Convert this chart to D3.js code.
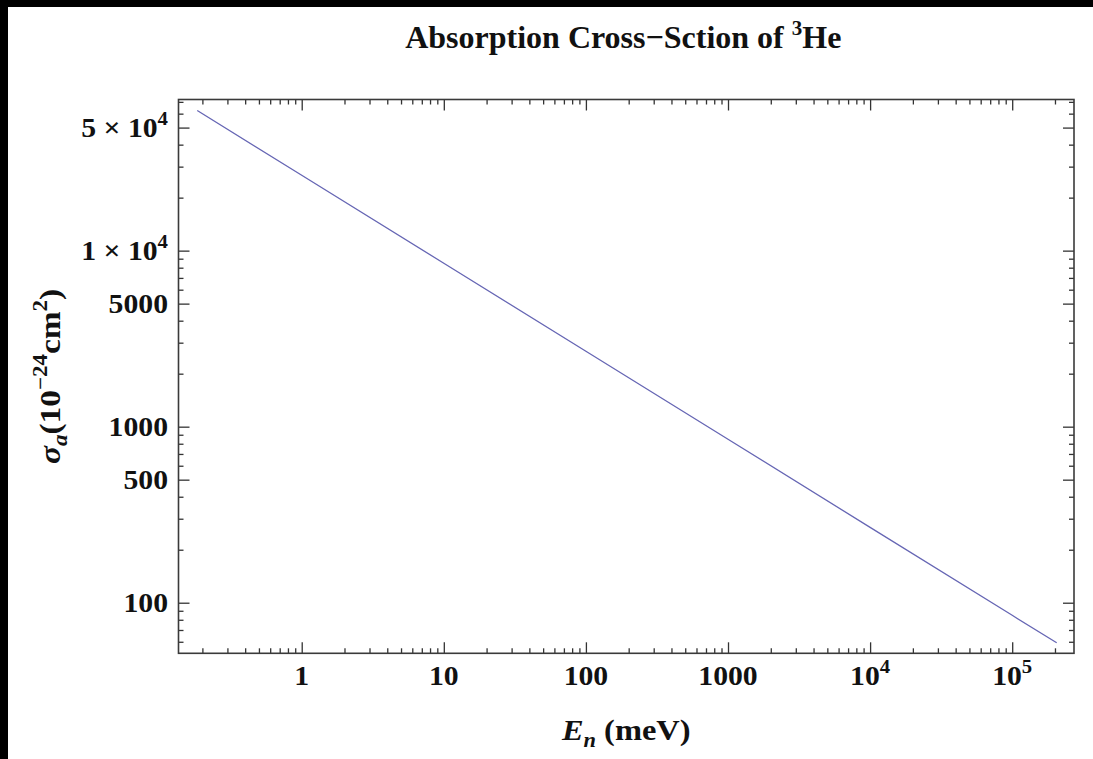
<!DOCTYPE html>
<html>
<head>
<meta charset="utf-8">
<script src="https://cdn.jsdelivr.net/npm/d3@7/dist/d3.min.js"></script>
<style>
  html, body { margin: 0; padding: 0; background: #fff; }
  svg { display: block; }
  text { font-family: "Liberation Serif", "Times New Roman", serif; font-weight: bold; fill: #111; }
</style>
</head>
<body>
<svg id="chart" width="1093" height="759"></svg>
<script>
// Neutron energy (meV) and the 3He absorption cross-section (barn) along the curve
const energy = [0.184, 1, 10, 100, 1000, 10000, 100000, 205600];
const sigma  = [62500, 26800, 8480, 2680, 848, 268, 84.8, 59.2];

// Labelled ticks
const xMajor = [1, 10, 100, 1000, 10000, 100000];
const xLabels = [["1"], ["10"], ["100"], ["1000"], ["10", "4"], ["10", "5"]];
const yMajor = [50000, 10000, 5000, 1000, 500, 100];
const yLabels = [["5 × 10", "4"], ["1 × 10", "4"], ["5000"], ["1000"], ["500"], ["100"]];

const W = 1093, H = 759;
const pLeft = 178.5, pRight = 1074, pTop = 99.5, pBottom = 653.3;

const svg = d3.select("#chart");

// dark border strips along top and left
svg.append("rect").attr("x", 0).attr("y", 0).attr("width", W).attr("height", 7).attr("fill", "#000");
svg.append("rect").attr("x", 0).attr("y", 0).attr("width", 8).attr("height", H).attr("fill", "#000");

const x = d3.scaleLog().domain([0.1358, 272200]).range([pLeft, pRight]);
const y = d3.scaleLog().domain([51.6, 72200]).range([pBottom, pTop]);

// minor tick values: 2..9 x 10^k on x, the non-major 1..9 x 10^k on y
const xMinor = [];
for (let k = -1; k <= 5; k++) for (let m = 2; m <= 9; m++) {
  const v = m * Math.pow(10, k);
  if (v >= x.domain()[0] && v <= x.domain()[1]) xMinor.push(v);
}
const yMinor = [];
for (let k = 1; k <= 4; k++) for (let m = 1; m <= 9; m++) {
  const v = m * Math.pow(10, k);
  if (m === 1 || m === 5) continue;
  if (v >= y.domain()[0] && v <= y.domain()[1]) yMinor.push(v);
}

const tickColor = "#333";
function styleAxis(g) {
  g.select(".domain").remove();
  g.selectAll("line").attr("stroke", tickColor).attr("stroke-width", 1.3);
  g.selectAll("text").remove();
}
const MAJ = 11, MIN = 5;

svg.append("g").attr("transform", `translate(0,${pBottom})`)
  .call(d3.axisBottom(x).tickValues(xMajor).tickSizeInner(-MAJ).tickSizeOuter(0)).call(styleAxis);
svg.append("g").attr("transform", `translate(0,${pBottom})`)
  .call(d3.axisBottom(x).tickValues(xMinor).tickSizeInner(-MIN).tickSizeOuter(0)).call(styleAxis);
svg.append("g").attr("transform", `translate(0,${pTop})`)
  .call(d3.axisTop(x).tickValues(xMajor).tickSizeInner(-MAJ).tickSizeOuter(0)).call(styleAxis);
svg.append("g").attr("transform", `translate(0,${pTop})`)
  .call(d3.axisTop(x).tickValues(xMinor).tickSizeInner(-MIN).tickSizeOuter(0)).call(styleAxis);
svg.append("g").attr("transform", `translate(${pLeft},0)`)
  .call(d3.axisLeft(y).tickValues(yMajor).tickSizeInner(-MAJ).tickSizeOuter(0)).call(styleAxis);
svg.append("g").attr("transform", `translate(${pLeft},0)`)
  .call(d3.axisLeft(y).tickValues(yMinor).tickSizeInner(-MIN).tickSizeOuter(0)).call(styleAxis);
svg.append("g").attr("transform", `translate(${pRight},0)`)
  .call(d3.axisRight(y).tickValues(yMajor).tickSizeInner(-MAJ).tickSizeOuter(0)).call(styleAxis);
svg.append("g").attr("transform", `translate(${pRight},0)`)
  .call(d3.axisRight(y).tickValues(yMinor).tickSizeInner(-MIN).tickSizeOuter(0)).call(styleAxis);

// frame
svg.append("rect").attr("x", pLeft).attr("y", pTop).attr("width", pRight - pLeft).attr("height", pBottom - pTop)
  .attr("fill", "none").attr("stroke", "#3a3a3a").attr("stroke-width", 1.6);

// the cross-section curve
const line = d3.line().x((d, i) => x(energy[i])).y(d => y(d));
svg.append("path").datum(sigma).attr("d", line)
  .attr("fill", "none").attr("stroke", "#6666b4").attr("stroke-width", 1.3);

const FS = 27.5, SX = 1.08;
function label(parent, px, py, parts, anchor) {
  const g = parent.append("g").attr("transform", `translate(${px},${py}) scale(${SX},1)`);
  const t = g.append("text").attr("text-anchor", anchor).attr("font-size", FS);
  t.append("tspan").text(parts[0]);
  if (parts[1]) t.append("tspan").attr("font-size", FS * 0.7).attr("dy", -FS * 0.45).text(parts[1]);
  return t;
}

// x tick labels
xMajor.forEach((v, i) => label(svg, x(v), 685, xLabels[i], "middle"));
// y tick labels
yMajor.forEach((v, i) => label(svg, 168, y(v) + 9.5, yLabels[i], "end"));

// title
const title = svg.append("g").attr("transform", `translate(${(pLeft + pRight) / 2 - 3},48)`)
  .append("text").attr("text-anchor", "middle").attr("font-size", 32);
title.append("tspan").text("Absorption Cross−Sction of ");
title.append("tspan").attr("font-size", 21).attr("dy", -13).text("3");
title.append("tspan").attr("dy", 13).text("He");

// x axis title
const xt = svg.append("g").attr("transform", `translate(${(pLeft + pRight) / 2},740) scale(1.12,1)`)
  .append("text").attr("text-anchor", "middle").attr("font-size", 29);
xt.append("tspan").attr("font-style", "italic").text("E");
xt.append("tspan").attr("font-style", "italic").attr("font-size", 20).attr("dy", 7).text("n");
xt.append("tspan").attr("dy", -7).text(" (meV)");

// y axis title
const yt = svg.append("g").attr("transform", `translate(60,${(pTop + pBottom) / 2}) rotate(-90) scale(1.15,1)`)
  .append("text").attr("text-anchor", "middle").attr("font-size", 29);
yt.append("tspan").attr("font-style", "italic").text("σ");
yt.append("tspan").attr("font-style", "italic").attr("font-size", 20).attr("dy", 7).text("a");
yt.append("tspan").attr("dy", -7).text("(10");
yt.append("tspan").attr("font-size", 20).attr("dy", -13).text("−24");
yt.append("tspan").attr("dy", 13).text("cm");
yt.append("tspan").attr("font-size", 20).attr("dy", -13).text("2");
yt.append("tspan").attr("dy", 13).text(")");
</script>
</body>
</html>
